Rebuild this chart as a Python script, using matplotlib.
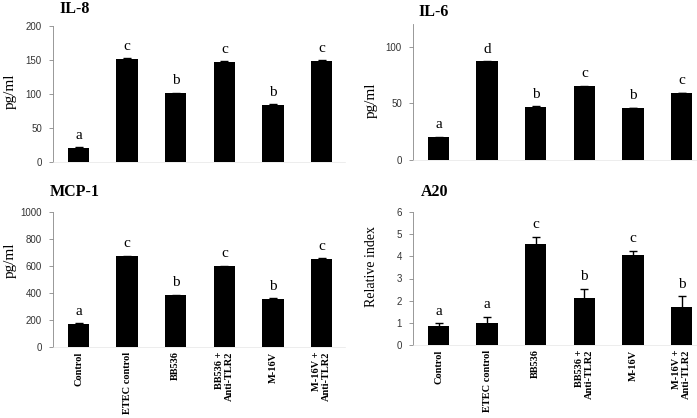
import matplotlib
matplotlib.use('Agg')
import matplotlib.pyplot as plt
import numpy as np

plt.rcParams['font.family'] = ['Liberation Serif', 'DejaVu Serif']

# group labels shared by all four panels
groups = ['Control', 'ETEC control', 'BB536', 'BB536 +\nAnti-TLR2', 'M-16V', 'M-16V +\nAnti-TLR2']

il8 = [21, 152, 101, 147, 84, 149]
il8_err = [0.8, 0.8, 0.8, 0.8, 0.8, 0.8]
il8_sig = ['a', 'c', 'b', 'c', 'b', 'c']

il6 = [20, 87, 47, 65, 46, 59]
il6_err = [0.3, 0.3, 0.3, 0.3, 0.3, 0.3]
il6_sig = ['a', 'd', 'b', 'c', 'b', 'c']

mcp1 = [174, 670, 383, 597, 358, 653]
mcp1_err = [3, 3, 3, 3, 3, 3]
mcp1_sig = ['a', 'c', 'b', 'c', 'b', 'c']

a20 = [0.88, 1.0, 4.55, 2.13, 4.04, 1.72]
a20_err = [0.1, 0.28, 0.32, 0.42, 0.2, 0.48]
a20_sig = ['a', 'a', 'c', 'b', 'c', 'b']

W, H = 697, 418
fig = plt.figure(figsize=(W / 100, H / 100), dpi=100)

def px_axes(left, right, top, bottom):
    return fig.add_axes([left / W, 1 - bottom / H, (right - left) / W, (bottom - top) / H])

def panel(ax, vals, errs, sig, ymax, yticks, ylabel, lab_xy, lab_size, show_x):
    x = np.arange(len(vals))
    ax.bar(x, vals, width=0.44, color='black', zorder=2)
    ax.errorbar(x, vals, yerr=errs, fmt='none', ecolor='black', elinewidth=1,
                capsize=3, capthick=1, zorder=3)
    for xi, v, e, s in zip(x, vals, errs, sig):
        ax.annotate(s, (xi, v + e), xytext=(0, 4), textcoords='offset points',
                    ha='center', va='bottom', fontsize=11)
    pos = ax.get_position()
    w_px = pos.width * W
    h_px = pos.height * H
    ax.set_xlim(-0.525, -0.525 + w_px / 48.6)
    ax.set_ylim(0, ymax)
    ax.set_yticks(yticks)
    ax.set_yticklabels([str(t) for t in yticks], family='Liberation Sans', fontsize=7, color='#333333')
    ax.tick_params(axis='y', length=3, width=0.6, color='#888888', pad=5)
    ax.spines['top'].set_visible(False)
    ax.spines['right'].set_visible(False)
    ax.spines['left'].set_color('#888888')
    ax.spines['left'].set_linewidth(0.6)
    ax.spines['bottom'].set_color('#e6e6e6')
    ax.spines['bottom'].set_linewidth(0.5)
    ax.set_ylabel(ylabel, fontsize=lab_size)
    # label anchor (right edge, vertical centre) in pixels from the axes' lower-left corner
    ax.yaxis.set_label_coords(lab_xy[0] / w_px, lab_xy[1] / h_px)
    if show_x:
        ax.set_xticks(x)
        ax.set_xticklabels(groups, rotation=90, fontsize=7.5, fontweight='bold',
                           ha='center', va='top', multialignment='right')
        ax.tick_params(axis='x', length=0, pad=3)
    else:
        ax.set_xticks([])

ax1 = px_axes(53, 345, 26, 162)
panel(ax1, il8, il8_err, il8_sig, 200, [0, 50, 100, 150, 200], 'pg/ml', (-36, 162 - 91), 11, False)
ax2 = px_axes(413, 697, 24, 160)
panel(ax2, il6, il6_err, il6_sig, 120, [0, 50, 100], 'pg/ml', (-35, 160 - 100), 11, False)
ax3 = px_axes(53, 345, 211.7, 347.3)
panel(ax3, mcp1, mcp1_err, mcp1_sig, 1000, [0, 200, 400, 600, 800, 1000], 'pg/ml', (-36, 347.3 - 260), 11, True)
ax4 = px_axes(413, 697, 211.7, 345.3)
panel(ax4, a20, a20_err, a20_sig, 6, [0, 1, 2, 3, 4, 5, 6], 'Relative index', (-35, 345.3 - 266.5), 10, True)

# panel titles
for label, xc, yc in [('IL-8', 74.5, 9), ('IL-6', 434, 12), ('MCP-1', 74.5, 192), ('A20', 435, 192)]:
    fig.text(xc / W, 1 - yc / H, label, ha='center', va='center', fontsize=11.5, fontweight='bold')

fig.savefig('out.png', dpi=100)
